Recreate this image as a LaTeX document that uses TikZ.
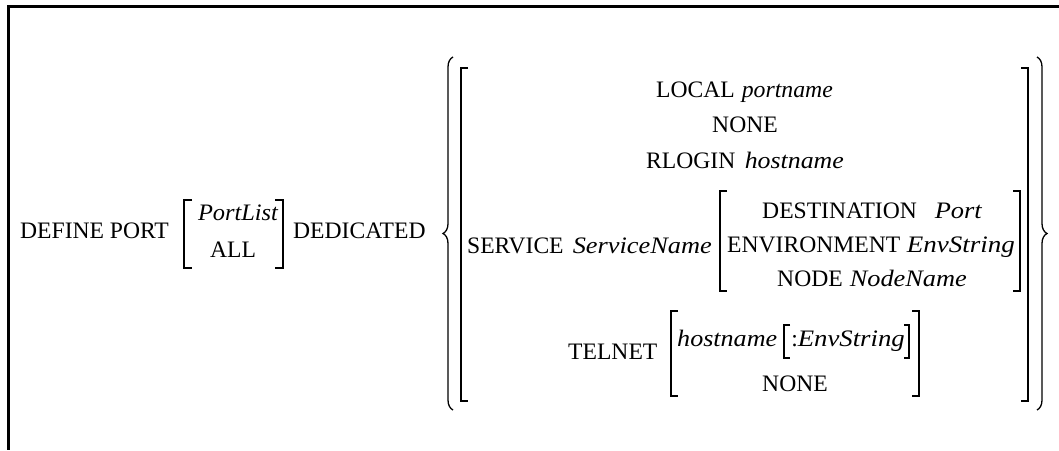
\documentclass[tikz,border=0pt]{standalone}
\usepackage{fontspec}
\usepackage{graphicx}
\setmainfont{Liberation Serif}
\usetikzlibrary{decorations.pathreplacing}
% italic word stretched to the width it has in the reference
\newcommand\vi[2]{\resizebox{#1pt}{\height}{\itshape #2}}
\newcommand\lbrk[4]{\draw[brk] (#1+#4,#2) -- (#1,#2) -- (#1,#3) -- (#1+#4,#3);}
\newcommand\rbrk[4]{\draw[brk] (#1-#4,#2) -- (#1,#2) -- (#1,#3) -- (#1-#4,#3);}
\begin{document}
\begin{tikzpicture}[x=1pt,y=-1pt,
  txt/.style={anchor=base,inner sep=0pt,font=\fontsize{23.6}{28}\selectfont},
  lt/.style={txt,anchor=base west},
  rt/.style={txt,anchor=base east},
  brk/.style={line width=1.1pt},
  frameline/.style={line width=2.2pt},
  cbrace/.style={line width=1.3pt,decorate,decoration={brace,amplitude=10pt}}]
\useasboundingbox (0,0) rectangle (1059,450);
% frame
\draw[frameline] (1059,6.5) -- (8.5,6.5) -- (8.5,450);
% first part
\node[lt] (def) at (20,238) {DEFINE PORT};
\node[txt] (pl) at (238,220) {\vi{80}{PortList}};
\node[txt] (all) at (233,257) {ALL};
\lbrk{184}{200}{268}{8}
\rbrk{283}{200}{268}{8}
\node[lt] (ded) at (293,238) {DEDICATED};
% braces
\draw[cbrace] (453,410) -- (453,57);
\draw[cbrace] (1037,57) -- (1037,410);
% outer brackets
\lbrk{461}{68}{401}{7}
\rbrk{1028}{68}{401}{7}
\node[lt] (loc) at (656,97) {LOCAL};
\node[rt] (locp) at (833,97) {\vi{91}{portname}};
\node[txt] (none1) at (745,132) {NONE};
\node[lt] (rlog) at (646,168) {RLOGIN};
\node[rt] (rlogh) at (844,168) {\vi{99}{hostname}};
% service
\node[lt] (svc) at (467,253) {SERVICE};
\node[rt] (svcn) at (712,253) {\vi{139}{ServiceName}};
\lbrk{720}{191}{291}{7}
\rbrk{1020}{191}{291}{7}
\node[lt] (dest) at (762,218) {DESTINATION};
\node[rt] (destp) at (982,218) {\vi{47}{Port}};
\node[lt] (env) at (727,252) {ENVIRONMENT};
\node[rt] (envs1) at (1015,252) {\vi{108}{EnvString}};
\node[lt] (nod) at (777,286) {NODE};
\node[rt] (nodn) at (967,286) {\vi{117}{NodeName}};
% telnet
\node[lt] (tel) at (568,359) {TELNET};
\lbrk{671}{311}{396}{7}
\rbrk{919}{311}{396}{7}
\node[lt] (host) at (677,346) {\vi{100}{hostname}};
\lbrk{784}{325}{358}{6}
\rbrk{909}{325}{358}{5}
\node[rt] (envs2) at (905,346) {:\vi{107}{EnvString}};
\node[txt] (none2) at (795,391) {NONE};
\end{tikzpicture}
\end{document}
